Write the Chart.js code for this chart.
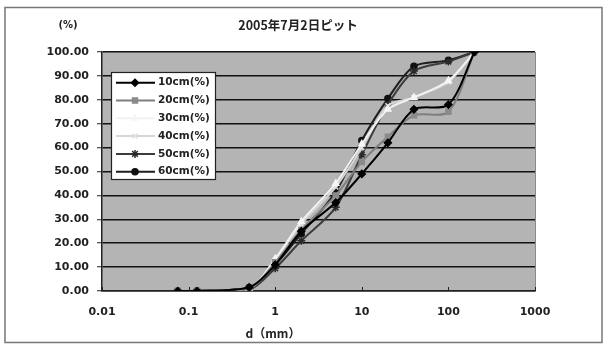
<!DOCTYPE html>
<html lang="ja">
<head>
<meta charset="UTF-8">
<title>2005年7月2日ピット</title>
<script src="https://cdn.jsdelivr.net/npm/chart.js"></script>
<style>
  html, body { margin: 0; padding: 0; background: #fff; }
  #wrap { width: 606px; height: 345px; }
</style>
</head>
<body>
<div id="wrap"><canvas id="grafico"></canvas></div>
<script>
// sieve sizes (mm) and % passing for each depth
const sizes = [0.075, 0.125, 0.5, 1, 2, 5, 10, 20, 40, 100, 200];
const depth10 = [0, 0, 1.5, 11, 25, 37, 49, 62, 76, 78, 100];
const depth20 = [0, 0, 1, 12, 25.5, 40, 54, 64.5, 73.5, 75, 100];
const depth30 = [0, 0, 1, 13.5, 29, 45, 61.5, 76, 81, 88, 100];
const depth40 = [0, 0, 1, 13, 28, 43.5, 60, 77.5, 81, 87.5, 100];
const depth50 = [0, 0, 0.5, 9.5, 21, 35, 57, 78, 92, 96, 100];
const depth60 = [0, 0, 1.5, 11, 24, 41.5, 63, 80.5, 94, 96.5, 100];
const seriesNames = ['10cm(%)', '20cm(%)', '30cm(%)', '40cm(%)', '50cm(%)', '60cm(%)'];
const xTicks = [0.01, 0.1, 1, 10, 100, 1000];
const titulo = '2005年7月2日ピット';

const fonte = "'DejaVu Sans', 'Noto Sans CJK JP', sans-serif";
const fonteTitulo = "'Noto Sans CJK JP', 'DejaVu Sans', sans-serif";
const corTexto = '#222';

function pontos(valores) {
    return sizes.map((s, i) => ({ x: s, y: valores[i] }));
}

const estilos = [
    { line: '#000000', fill: '#000000', stroke: '#000000', style: 'rectRot', r: 3.5 },
    { line: '#7f7f7f', fill: '#8a8a8a', stroke: '#8a8a8a', style: 'rect', r: 3.5 },
    { line: '#f2f2f2', fill: '#f6f6f6', stroke: '#f6f6f6', style: 'triangle', r: 3.5 },
    { line: '#d6d6d6', fill: '#e2e2e2', stroke: '#e2e2e2', style: 'crossRot', r: 3.5 },
    { line: '#3c3c3c', fill: '#3c3c3c', stroke: '#2a2a2a', style: 'star', r: 4 },
    { line: '#1e1e1e', fill: '#111111', stroke: '#111111', style: 'circle', r: 3 }
];

const valores = [depth10, depth20, depth30, depth40, depth50, depth60];

const datasets = valores.map((v, i) => ({
    label: seriesNames[i],
    data: pontos(v),
    borderColor: estilos[i].line,
    backgroundColor: estilos[i].fill,
    pointBorderColor: estilos[i].stroke,
    pointBackgroundColor: estilos[i].fill,
    pointStyle: estilos[i].style,
    pointRadius: estilos[i].r,
    pointBorderWidth: 1.5,
    borderWidth: 2,
    tension: 0.3,
    fill: false
}));

// background, frame, texts and legend box
const decoracao = {
    id: 'decoracao',
    beforeDraw(chart) {
        const ctx = chart.ctx;
        const a = chart.chartArea;
        ctx.save();
        ctx.fillStyle = '#ffffff';
        ctx.fillRect(0, 0, chart.width, chart.height);
        ctx.strokeStyle = '#777';
        ctx.lineWidth = 1.5;
        ctx.strokeRect(5, 7.5, 597, 335);
        ctx.fillStyle = '#b4b4b4';
        ctx.fillRect(a.left, a.top, a.right - a.left, a.bottom - a.top);
        ctx.restore();
    },
    afterDraw(chart) {
        const ctx = chart.ctx;
        const a = chart.chartArea;
        const xs = chart.scales.x;
        ctx.save();
        // right edge of plot area
        ctx.strokeStyle = '#8a8a8a';
        ctx.lineWidth = 1;
        ctx.beginPath();
        ctx.moveTo(a.right + 0.5, a.top);
        ctx.lineTo(a.right + 0.5, a.bottom);
        ctx.stroke();
        // inside tick marks on x axis
        ctx.strokeStyle = '#222';
        ctx.lineWidth = 1;
        xTicks.forEach(v => {
            const px = Math.round(xs.getPixelForValue(v)) + 0.5;
            ctx.beginPath();
            ctx.moveTo(px, a.bottom);
            ctx.lineTo(px, a.bottom - 4);
            ctx.stroke();
        });
        // texts
        ctx.fillStyle = corTexto;
        ctx.textAlign = 'center';
        ctx.textBaseline = 'middle';
        ctx.font = 'bold 12.5px ' + fonteTitulo;
        ctx.fillText(titulo, 298, 25);
        ctx.font = 'bold 10px ' + fonte;
        ctx.fillText('(%)', 68, 25);
        ctx.font = 'bold 12px ' + fonteTitulo;
        ctx.fillText('d（mm）', 273, 333);

        // legend
        const lx = 111, ly = 72, lw = 104, lh = 107;
        ctx.fillStyle = '#ffffff';
        ctx.fillRect(lx, ly, lw, lh);
        ctx.strokeStyle = '#222';
        ctx.lineWidth = 1.2;
        ctx.strokeRect(lx + 0.5, ly + 0.5, lw, lh);
        chart.data.datasets.forEach((ds, i) => {
            const y = 82.7 + i * 17.8;
            ctx.strokeStyle = ds.borderColor;
            ctx.lineWidth = 2;
            ctx.beginPath();
            ctx.moveTo(116, y);
            ctx.lineTo(155, y);
            ctx.stroke();
            ctx.fillStyle = ds.pointBackgroundColor;
            ctx.strokeStyle = ds.pointBorderColor;
            ctx.lineWidth = 1.5;
            if (Chart.helpers && Chart.helpers.drawPoint) {
                Chart.helpers.drawPoint(ctx, {
                    pointStyle: ds.pointStyle,
                    radius: ds.pointRadius,
                    rotation: 0,
                    borderWidth: 1.5
                }, 135, y);
            }
            ctx.fillStyle = corTexto;
            ctx.font = 'bold 10.5px ' + fonte;
            ctx.textAlign = 'left';
            ctx.fillText(ds.label, 158, y);
        });
        ctx.restore();
    }
};

const config = {
    type: 'line',
    data: { datasets: datasets },
    options: {
        responsive: false,
        animation: false,
        layout: { padding: { top: 52, right: 71, bottom: 0, left: 0 } },
        plugins: {
            legend: { display: false },
            tooltip: { enabled: false },
            title: { display: false }
        },
        scales: {
            x: {
                type: 'logarithmic',
                min: 0.01,
                max: 1000,
                afterBuildTicks: (scale) => { scale.ticks = xTicks.map(v => ({ value: v })); },
                afterFit: (scale) => { scale.height = 54; },
                grid: { display: false },
                border: { display: true, color: '#222', width: 1.5 },
                ticks: {
                    autoSkip: false,
                    maxRotation: 0,
                    padding: 7,
                    color: corTexto,
                    font: { family: fonte, size: 11, weight: 'bold' },
                    callback: (v) => String(v)
                }
            },
            y: {
                min: 0,
                max: 100,
                afterFit: (scale) => { scale.width = 102; },
                grid: { color: '#111', lineWidth: 1.5, tickLength: 5, tickColor: '#222', tickWidth: 1 },
                border: { display: true, color: '#222', width: 1.5 },
                ticks: {
                    stepSize: 10,
                    padding: 8,
                    color: corTexto,
                    font: { family: fonte, size: 11, weight: 'bold' },
                    callback: (v) => Number(v).toFixed(2)
                }
            }
        }
    },
    plugins: [decoracao]
};

const canvas = document.getElementById('grafico');
canvas.width = 606;
canvas.height = 345;
new Chart(canvas, config);
</script>
</body>
</html>
